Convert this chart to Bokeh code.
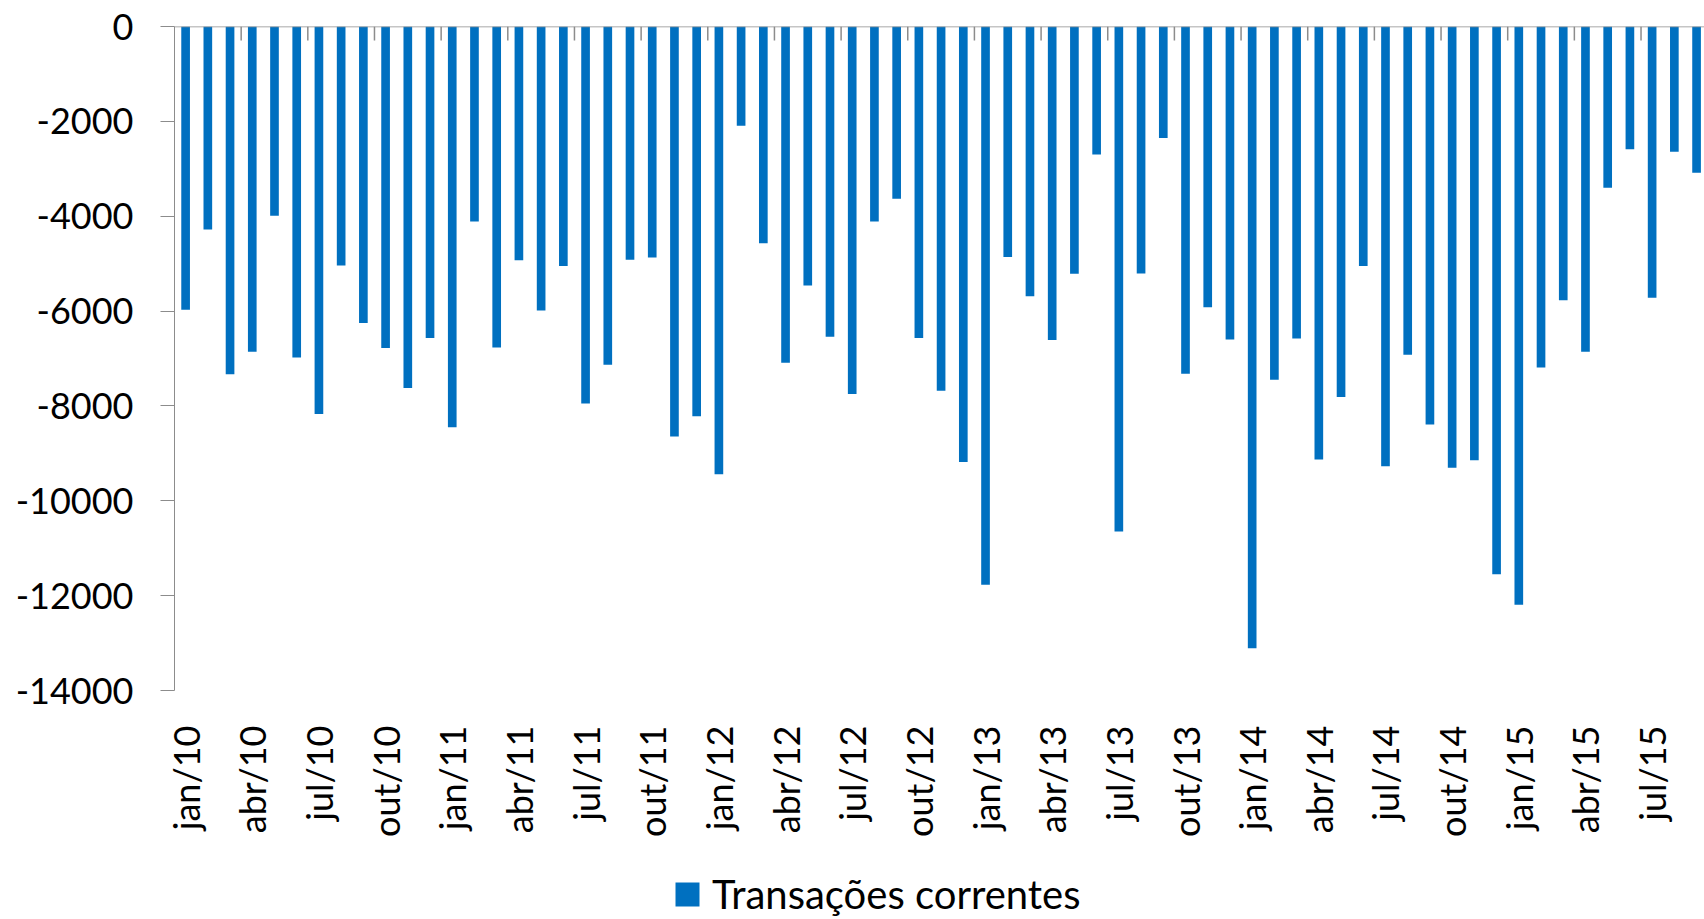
from math import pi
from bokeh.plotting import figure
from bokeh.layouts import column
from bokeh.models import (ColumnDataSource, Range1d, FixedTicker, Span,
                          Legend, LegendItem)
from bokeh.embed import file_html
from bokeh.resources import INLINE

# ---- data ----
categories = [
    "jan/10", "fev/10", "mar/10", "abr/10", "mai/10", "jun/10", "jul/10", "ago/10", "set/10", "out/10", "nov/10", "dez/10",
    "jan/11", "fev/11", "mar/11", "abr/11", "mai/11", "jun/11", "jul/11", "ago/11", "set/11", "out/11", "nov/11", "dez/11",
    "jan/12", "fev/12", "mar/12", "abr/12", "mai/12", "jun/12", "jul/12", "ago/12", "set/12", "out/12", "nov/12", "dez/12",
    "jan/13", "fev/13", "mar/13", "abr/13", "mai/13", "jun/13", "jul/13", "ago/13", "set/13", "out/13", "nov/13", "dez/13",
    "jan/14", "fev/14", "mar/14", "abr/14", "mai/14", "jun/14", "jul/14", "ago/14", "set/14", "out/14", "nov/14", "dez/14",
    "jan/15", "fev/15", "mar/15", "abr/15", "mai/15", "jun/15", "jul/15", "ago/15", "set/15",
]
transacoes_correntes = [
    -5970, -4280, -7330, -6860, -3990, -6980, -8170, -5040, -6250, -6780, -7620, -6570,
    -8450, -4110, -6770, -4930, -5990, -5050, -7950, -7130, -4920, -4870, -8645, -8220,
    -9440, -2090, -4570, -7090, -5460, -6540, -7750, -4110, -3630, -6570, -7680, -9180,
    -11770, -4860, -5690, -6610, -5215, -2700, -10650, -5210, -2350, -7320, -5920, -6600,
    -13110, -7450, -6580, -9130, -7810, -5050, -9270, -6920, -8390, -9305, -9145, -11550,
    -12190, -7190, -5770, -6860, -3400, -2590, -5720, -2640, -3085,
]
y_tick_values = [0, -2000, -4000, -6000, -8000, -10000, -12000, -14000]
y_tick_labels = ["0", "-2000", "-4000", "-6000", "-8000", "-10000", "-12000", "-14000"]
label_step = 3
series_name = "Transações correntes"

# ---- styling / layout ----
BAR = "#0070C0"
GRAY = "#8C8C8C"
FONT = "Lato"
W = 1704
H_CHART, H_LEGEND = 850, 69
LEFT, TOP = 174, 26
FRAME_H = 664
BOTTOM = H_CHART - TOP - FRAME_H
CAT_PX = 22.22
TICK_PX = 14
LEGEND_X = 672

N = len(categories)
src = ColumnDataSource(dict(x=list(range(N)), value=transacoes_correntes, label=categories))

x_end = -0.5 + (W - LEFT) / CAT_PX
y_min, y_max = y_tick_values[-1], y_tick_values[0]

p = figure(width=W, height=H_CHART, output_backend="svg", toolbar_location=None,
           x_range=Range1d(-0.5, x_end), y_range=Range1d(y_min, y_max),
           min_border_left=LEFT, min_border_right=0, min_border_top=TOP,
           min_border_bottom=BOTTOM)
p.outline_line_color = None
p.xgrid.grid_line_color = None
p.ygrid.grid_line_color = None
p.background_fill_color = "white"
p.border_fill_color = "white"

bars = p.vbar(x="x", top="value", bottom=0, width=0.39, source=src,
              fill_color=BAR, line_color=None)

# y axis
ya = p.yaxis[0]
ya.ticker = FixedTicker(ticks=y_tick_values)
ya.major_label_overrides = {v: s for v, s in zip(y_tick_values, y_tick_labels)}
ya.major_tick_out = TICK_PX
ya.major_tick_in = 0
ya.minor_tick_line_color = None
ya.axis_line_color = GRAY
ya.major_tick_line_color = GRAY
ya.major_label_standoff = 27
ya.major_label_text_font = FONT
ya.major_label_text_font_size = "36px"
ya.major_label_text_color = "black"

# x axis: labels only, at the bottom of the plot area
xa = p.xaxis[0]
label_positions = list(range(0, N, label_step))
xa.ticker = FixedTicker(ticks=label_positions)
xa.major_label_overrides = {i: categories[i] for i in label_positions}
xa.major_label_orientation = pi / 2
xa.major_tick_out = 0
xa.major_tick_in = 0
xa.minor_tick_line_color = None
xa.axis_line_color = None
xa.major_label_standoff = 35
xa.major_label_text_font = FONT
xa.major_label_text_font_size = "36px"
xa.major_label_text_color = "black"

# category axis crossing at zero: line plus group tick marks pointing down
p.add_layout(Span(location=0, dimension="width", line_color=GRAY, line_width=1.5))
tick_x = [i - 0.5 for i in range(label_step, N, label_step)]
tick_len = TICK_PX * (y_max - y_min) / FRAME_H
p.segment(x0=tick_x, y0=[0] * len(tick_x), x1=tick_x, y1=[-tick_len] * len(tick_x),
          line_color=GRAY, line_width=1.5)

# ---- legend strip below the chart (frame aligned with the chart frame) ----
lg = figure(width=W, height=H_LEGEND, output_backend="svg", toolbar_location=None,
            x_range=Range1d(-0.5, x_end), y_range=Range1d(1, 2),
            x_axis_location=None, y_axis_location=None,
            min_border_left=LEFT, min_border_right=0, min_border_top=0, min_border_bottom=0)
lg.outline_line_color = None
lg.xgrid.grid_line_color = None
lg.ygrid.grid_line_color = None
# same series; its bars lie outside this strip's range, only its legend swatch shows
swatch = lg.vbar(x="x", top="value", bottom=0, width=0.39, source=src,
                 fill_color=BAR, line_color=None)
legend = Legend(items=[LegendItem(label=series_name, renderers=[swatch])],
                location=(LEGEND_X - LEFT, 1), orientation="horizontal",
                glyph_width=30, glyph_height=30, label_standoff=10,
                padding=0, margin=0, border_line_color=None, background_fill_alpha=0,
                label_text_font=FONT, label_text_font_size="40px", label_text_color="black")
lg.add_layout(legend)

layout = column(p, lg, spacing=0)
open("out.html", "w").write(file_html(layout, INLINE))
